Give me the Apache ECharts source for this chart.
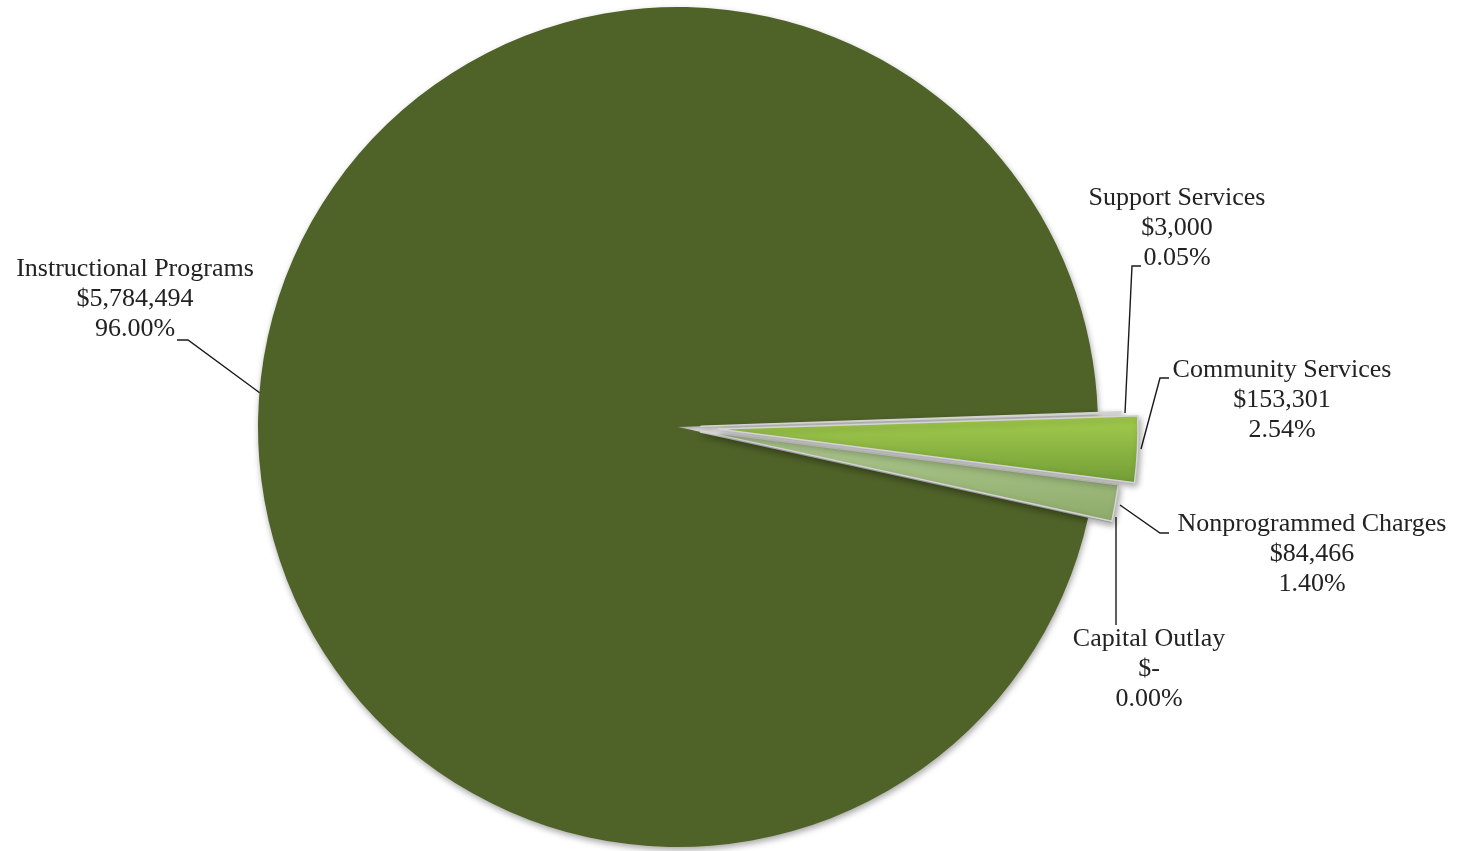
<!DOCTYPE html>
<html>
<head>
<meta charset="utf-8">
<script src="https://cdn.jsdelivr.net/npm/echarts@6/dist/echarts.min.js"></script>
<style>
  html, body { margin: 0; padding: 0; background: #ffffff; }
  #chart { width: 1467px; height: 851px; }
</style>
</head>
<body>
<div id="chart"></div>
<script>
// Expenditure by program
const categories = ['Instructional Programs', 'Support Services', 'Community Services', 'Nonprogrammed Charges', 'Capital Outlay'];
const amounts = [5784494, 3000, 153301, 84466, 0];

// Slice appearance
const sliceColors = [
  '#4f6228',
  { type: 'linear', x: 0, y: 0, x2: 0, y2: 1, colorStops: [{ offset: 0, color: '#d3e2b4' }, { offset: 1, color: '#b9cf8f' }] },
  { type: 'linear', x: 0, y: 0, x2: 0, y2: 1, colorStops: [{ offset: 0, color: '#a4cd4e' }, { offset: 1, color: '#729d36' }] },
  { type: 'linear', x: 0, y: 0, x2: 0, y2: 1, colorStops: [{ offset: 0, color: '#b0ca92' }, { offset: 1, color: '#8eab6a' }] },
  '#9bbb59'
];
const explode = [0, 23, 40, 24, 23];

// Label placement (block centre) and leader-line routes
const labelPlacement = [
  { x: 135, y: 299, line: [[260, 393], [188, 340], [177, 340]] },
  { x: 1177, y: 228, line: [[1125, 413], [1132, 266], [1141, 266]] },
  { x: 1282, y: 400, line: [[1141, 449], [1160, 378], [1169, 378]] },
  { x: 1312, y: 554, line: [[1120, 505], [1160, 533], [1169, 533]] },
  { x: 1149, y: 669, line: [[1116, 517], [1116, 625]] }
];

const total = amounts.reduce((a, b) => a + b, 0);
const fmtAmount = v => v === 0 ? '$-' : '$' + v.toLocaleString('en-US');
const fmtPct = v => (v / total * 100).toFixed(2) + '%';

const CENTER = [678, 427];
const RADIUS = 420;
const START = -12.4;

const offsets = Array.from(new Set(explode)).sort((a, b) => a - b);

const series = offsets.map((off, si) => {
  const isLabelSeries = off === 0;
  return {
    type: 'pie',
    center: CENTER,
    radius: RADIUS,
    startAngle: START,
    clockwise: true,
    avoidLabelOverlap: false,
    selectedMode: 'multiple',
    selectedOffset: off,
    silent: true,
    animation: false,
    emphasis: { disabled: true },
    z: 2 + si,
    label: {
      show: isLabelSeries,
      position: 'outside',
      fontFamily: 'Liberation Serif',
      fontSize: 26,
      lineHeight: 30,
      color: '#222222',
      align: 'center',
      formatter: p => [categories[p.dataIndex], fmtAmount(amounts[p.dataIndex]), fmtPct(amounts[p.dataIndex])].join('\n')
    },
    labelLine: {
      show: isLabelSeries,
      lineStyle: { color: '#1a1a1a', width: 1.4 }
    },
    labelLayout: isLabelSeries ? function (params) {
      const L = labelPlacement[params.dataIndex];
      return { x: L.x, y: L.y, align: 'center', verticalAlign: 'middle', labelLinePoints: L.line };
    } : undefined,
    data: categories.map((name, i) => {
      const mine = explode[i] === off;
      const item = { name, value: amounts[i], selected: mine && off > 0 };
      if (mine) {
        item.itemStyle = i === 0
          ? { color: sliceColors[i], shadowBlur: 6, shadowOffsetX: 1, shadowOffsetY: 3, shadowColor: 'rgba(0,0,0,0.35)' }
          : { color: sliceColors[i], borderColor: '#d4d4d4', borderWidth: 1.5, shadowBlur: 6, shadowOffsetX: 2, shadowOffsetY: 3, shadowColor: 'rgba(0,0,0,0.35)' };
      } else {
        item.itemStyle = { color: 'rgba(0,0,0,0)', borderWidth: 0, shadowBlur: 0, shadowColor: 'rgba(0,0,0,0)' };
      }
      return item;
    })
  };
});

const chart = echarts.init(document.getElementById('chart'), null, { renderer: 'canvas' });
chart.setOption({
  backgroundColor: '#ffffff',
  animation: false,
  series
});
</script>
</body>
</html>
